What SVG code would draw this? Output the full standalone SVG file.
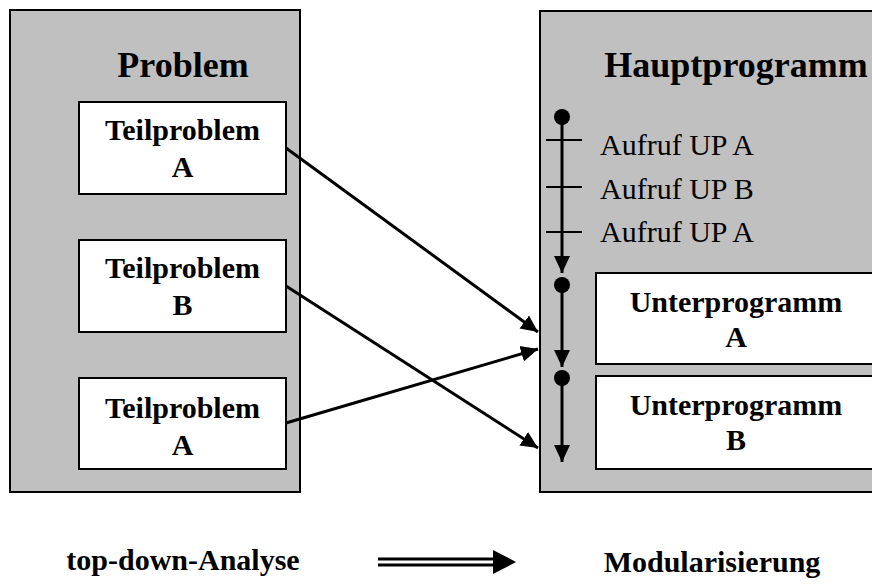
<svg xmlns="http://www.w3.org/2000/svg" width="872" height="584" viewBox="0 0 872 584">
<defs>
<style>
.panel{fill:#C0C0C0;stroke:#000;stroke-width:2}
.box{fill:#fff;stroke:#000;stroke-width:2}
.bt{font-family:"Liberation Serif","Times New Roman",serif;font-weight:bold;font-size:30px;fill:#000;text-anchor:middle}
.title{font-family:"Liberation Serif","Times New Roman",serif;font-weight:bold;font-size:36px;fill:#000;text-anchor:middle}
.rt{font-family:"Liberation Serif","Times New Roman",serif;font-size:30px;fill:#000}
.conn{stroke:#000;stroke-width:3;fill:none}
.tick{stroke:#000;stroke-width:2}
.dot{fill:#000}
</style>
<marker id="ah" markerUnits="userSpaceOnUse" markerWidth="18" markerHeight="18" refX="17" refY="8" orient="auto" viewBox="0 0 18 16">
<path d="M0,0 L17,8 L0,16 z" fill="#000"/>
</marker>
</defs>
<g id="problem">
<rect class="panel" x="10" y="10" width="290" height="482"/>
<text class="title" x="183" y="77">Problem</text>
</g>
<g id="teilproblem-a1">
<rect class="box" x="79" y="102" width="207" height="92"/>
<text class="bt" x="182.5" y="140">Teilproblem</text>
<text class="bt" x="182.5" y="177">A</text>
</g>
<g id="teilproblem-b">
<rect class="box" x="79" y="240" width="207" height="92"/>
<text class="bt" x="182.5" y="278">Teilproblem</text>
<text class="bt" x="182.5" y="315">B</text>
</g>
<g id="teilproblem-a2">
<rect class="box" x="79" y="378" width="207" height="91"/>
<text class="bt" x="182.5" y="418">Teilproblem</text>
<text class="bt" x="182.5" y="455">A</text>
</g>
<g id="hauptprogramm">
<rect class="panel" x="540" y="11" width="360" height="481"/>
<text class="title" x="736" y="77">Hauptprogramm</text>
<g id="timeline">
<circle class="dot" cx="562" cy="117" r="8"/>
<line class="conn" x1="562" y1="117" x2="562" y2="273" marker-end="url(#ah)"/>
<line class="tick" x1="546" y1="140" x2="582" y2="140"/>
<line class="tick" x1="546" y1="187" x2="582" y2="187"/>
<line class="tick" x1="546" y1="232" x2="582" y2="232"/>
<circle class="dot" cx="562" cy="285" r="8"/>
<line class="conn" x1="562" y1="285" x2="562" y2="367" marker-end="url(#ah)"/>
<circle class="dot" cx="562" cy="378" r="8"/>
<line class="conn" x1="562" y1="378" x2="562" y2="462" marker-end="url(#ah)"/>
</g>
<text class="rt" x="600" y="155">Aufruf UP A</text>
<text class="rt" x="600" y="199">Aufruf UP B</text>
<text class="rt" x="600" y="242">Aufruf UP A</text>
</g>
<g id="unterprogramm-a">
<rect class="box" x="596" y="273" width="300" height="91"/>
<text class="bt" x="736" y="312">Unterprogramm</text>
<text class="bt" x="736" y="347">A</text>
</g>
<g id="unterprogramm-b">
<rect class="box" x="596" y="376" width="300" height="93"/>
<text class="bt" x="736" y="415">Unterprogramm</text>
<text class="bt" x="736" y="450">B</text>
</g>
<g id="connectors">
<line class="conn" x1="286" y1="148" x2="538" y2="332" marker-end="url(#ah)"/>
<line class="conn" x1="286" y1="286" x2="538" y2="448" marker-end="url(#ah)"/>
<line class="conn" x1="286" y1="423" x2="538" y2="349" marker-end="url(#ah)"/>
</g>
<g id="bottom-arrow">
<line stroke="#000" stroke-width="3" x1="378" y1="559" x2="496" y2="559"/>
<line stroke="#000" stroke-width="3" x1="378" y1="565" x2="496" y2="565"/>
<polygon points="493,550 516,562 493,574" fill="#000"/>
</g>
<text class="bt" x="183" y="570">top-down-Analyse</text>
<text class="bt" x="712" y="572">Modularisierung</text>
</svg>
